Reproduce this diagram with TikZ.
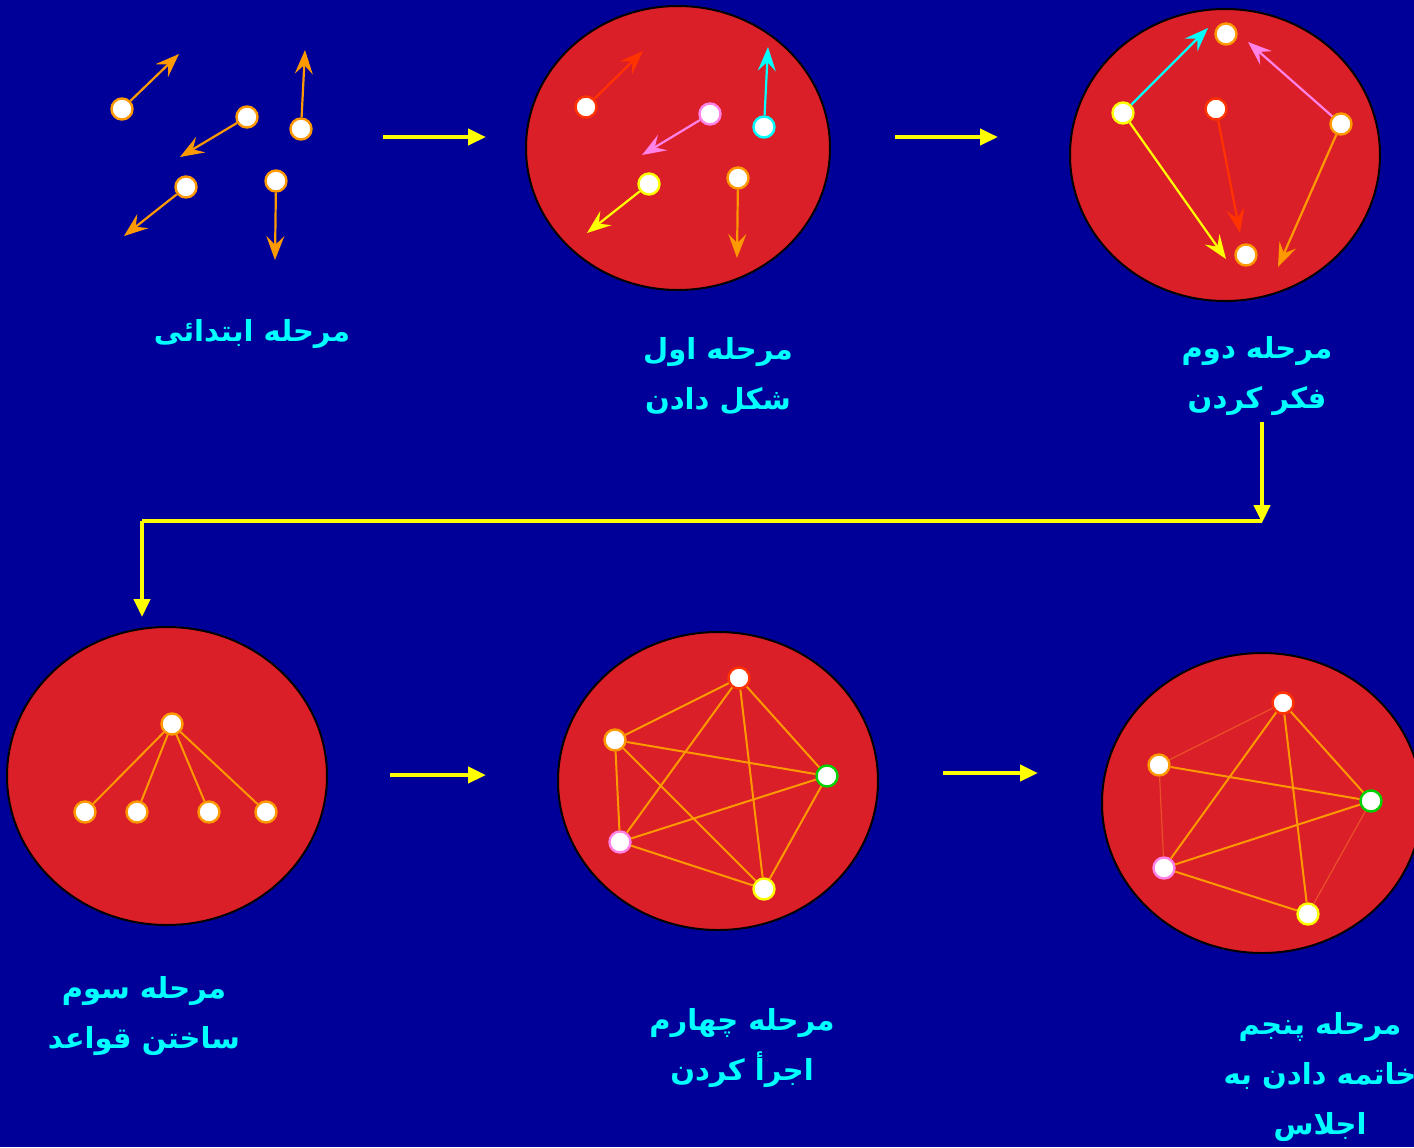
\documentclass[tikz,border=0pt]{standalone}
\usepackage{fontspec}
\usetikzlibrary{arrows.meta}
\TeXXeTstate=1
\newfontfamily\arabicfont[Script=Arabic]{DejaVu Sans}
\definecolor{bgblue}{RGB}{0,0,153}
\definecolor{disc}{RGB}{218,31,40}
\definecolor{cOr}{RGB}{255,153,0}
\definecolor{cRd}{RGB}{255,51,0}
\definecolor{cPk}{RGB}{255,130,230}
\definecolor{cCy}{RGB}{0,255,255}
\definecolor{cYe}{RGB}{255,255,0}
\definecolor{cGr}{RGB}{0,210,0}
\definecolor{cFaint}{RGB}{235,80,40}
\tikzset{
  dot/.style={circle, fill=white, draw=#1, line width=1.2pt, minimum size=10.5pt, inner sep=0pt},
  disk/.style={fill=disc, draw=black, line width=1pt},
  mv/.style={draw=#1, line width=1.1pt, -{Stealth[length=12pt, width=9pt, inset=4.5pt]}},
  edge/.style={draw=cOr, line width=1pt},
  faint/.style={draw=cFaint, line width=0.6pt},
  flow/.style={draw=cYe, line width=2.2pt},
  flowarr/.style={flow, -{Triangle[length=9pt, width=8pt]}},
  lbl/.style={text=cCy, font=\arabicfont\bfseries\fontsize{14.5pt}{25pt}\selectfont, align=center}
}
\begin{document}
\begin{tikzpicture}[x=0.5pt,y=-0.5pt]
\useasboundingbox (0,0) rectangle (1414,1147);
\clip (0,0) rectangle (1414,1147);
\fill[bgblue] (0,0) rectangle (1414,1147);

% ---------- stage 0 ----------
\node[dot=cOr] (s0a) at (122,109) {};
\node[dot=cOr] (s0b) at (247,117) {};
\node[dot=cOr] (s0c) at (301,129) {};
\node[dot=cOr] (s0d) at (186,187) {};
\node[dot=cOr] (s0e) at (276,181) {};
\coordinate (t0a) at (179,54);
\coordinate (t0b) at (180,157);
\coordinate (t0c) at (305,50);
\coordinate (t0d) at (124,236);
\coordinate (t0e) at (275,260);
\draw[mv=cOr] (s0a) -- (t0a);
\draw[mv=cOr] (s0b) -- (t0b);
\draw[mv=cOr] (s0c) -- (t0c);
\draw[mv=cOr] (s0d) -- (t0d);
\draw[mv=cOr] (s0e) -- (t0e);

% ---------- stage 1 ----------
\draw[disk] (678,148) ellipse [x radius=152, y radius=142];
\node[dot=cRd] (s1a) at (586,107) {};
\node[dot=cPk] (s1b) at (710,114) {};
\node[dot=cCy] (s1c) at (764,127) {};
\node[dot=cYe] (s1d) at (649,184) {};
\node[dot=cOr] (s1e) at (738,178) {};
\coordinate (t1a) at (643,51);
\coordinate (t1b) at (642,155);
\coordinate (t1c) at (768,47);
\coordinate (t1d) at (587,233);
\coordinate (t1e) at (737,258);
\draw[mv=cRd] (s1a) -- (t1a);
\draw[mv=cPk] (s1b) -- (t1b);
\draw[mv=cCy] (s1c) -- (t1c);
\draw[mv=cYe] (s1d) -- (t1d);
\draw[mv=cOr] (s1e) -- (t1e);

% ---------- stage 2 ----------
\draw[disk] (1225,155) ellipse [x radius=155, y radius=146];
\node[dot=cOr] (s2top) at (1226,34) {};
\node[dot=cYe] (s2l) at (1123,113) {};
\node[dot=cRd] (s2m) at (1216,109) {};
\node[dot=cOr] (s2r) at (1341,124) {};
\node[dot=cOr] (s2b) at (1246,255) {};
\coordinate (t2cy) at (1208,28);
\coordinate (t2ye) at (1226,259);
\coordinate (t2rd) at (1240,233);
\coordinate (t2pk) at (1248,42);
\coordinate (t2or) at (1278,267);
\draw[mv=cCy] (s2l) -- (t2cy);
\draw[mv=cYe] (s2l) -- (t2ye);
\draw[mv=cRd] (s2m) -- (t2rd);
\draw[mv=cPk] (s2r) -- (t2pk);
\draw[mv=cOr] (s2r) -- (t2or);

% ---------- stage 3 ----------
\draw[disk] (167,776) ellipse [x radius=160, y radius=149];
\node[dot=cOr] (s3t) at (172,724) {};
\node[dot=cOr] (s3a) at (85,812) {};
\node[dot=cOr] (s3b) at (137,812) {};
\node[dot=cOr] (s3c) at (209,812) {};
\node[dot=cOr] (s3d) at (266,812) {};
\foreach \n in {s3a,s3b,s3c,s3d} \draw[edge] (s3t) -- (\n);

% ---------- stage 4 ----------
\draw[disk] (718,781) ellipse [x radius=160, y radius=149];
\node[dot=cRd] (s4t) at (739,678) {};
\node[dot=cOr] (s4l) at (615,740) {};
\node[dot=cGr] (s4g) at (827,776) {};
\node[dot=cPk] (s4p) at (620,842) {};
\node[dot=cYe] (s4y) at (764,889) {};
\draw[edge] (s4t) -- (s4l);
\draw[edge] (s4t) -- (s4p);
\draw[edge] (s4t) -- (s4y);
\draw[edge] (s4t) -- (s4g);
\draw[edge] (s4l) -- (s4g);
\draw[edge] (s4l) -- (s4p);
\draw[edge] (s4l) -- (s4y);
\draw[edge] (s4g) -- (s4p);
\draw[edge] (s4g) -- (s4y);
\draw[edge] (s4p) -- (s4y);

% ---------- stage 5 ----------
\draw[disk] (1262,803) ellipse [x radius=160, y radius=150];
\node[dot=cRd] (s5t) at (1283,703) {};
\node[dot=cOr] (s5l) at (1159,765) {};
\node[dot=cGr] (s5g) at (1371,801) {};
\node[dot=cPk] (s5p) at (1164,868) {};
\node[dot=cYe] (s5y) at (1308,914) {};
\draw[faint] (s5t) -- (s5l);
\draw[faint] (s5l) -- (s5p);
\draw[faint] (s5g) -- (s5y);
\draw[edge] (s5t) -- (s5p);
\draw[edge] (s5t) -- (s5y);
\draw[edge] (s5t) -- (s5g);
\draw[edge] (s5l) -- (s5g);
\draw[edge] (s5g) -- (s5p);
\draw[edge] (s5p) -- (s5y);

% ---------- flow arrows ----------
\coordinate (f1a) at (383,137); \coordinate (f1b) at (486,137);
\coordinate (f2a) at (895,137); \coordinate (f2b) at (998,137);
\coordinate (f3a) at (1262,422); \coordinate (f3b) at (1262,523);
\coordinate (f3c) at (1262,521); \coordinate (f3d) at (142,521);
\coordinate (f3e) at (142,617);
\coordinate (f4a) at (390,775); \coordinate (f4b) at (486,775);
\coordinate (f5a) at (943,773); \coordinate (f5b) at (1038,773);
\draw[flowarr] (f1a) -- (f1b);
\draw[flowarr] (f2a) -- (f2b);
\draw[flowarr] (f3a) -- (f3b);
\draw[flow] (f3c) -- (f3d);
\draw[flowarr] (f3d) -- (f3e);
\draw[flowarr] (f4a) -- (f4b);
\draw[flowarr] (f5a) -- (f5b);

% ---------- labels ----------
\node[lbl] (L0) at (252,334) {\beginR مرحله ابتدائی\endR};
\node[lbl] (L1) at (718,376) {\beginR مرحله اول\endR\\\beginR شکل دادن\endR};
\node[lbl] (L2) at (1257,376) {\beginR مرحله دوم\endR\\\beginR فکر کردن\endR};
\node[lbl] (L3) at (144,1016) {\beginR مرحله سوم\endR\\\beginR ساختن قواعد\endR};
\node[lbl] (L4) at (742,1048) {\beginR مرحله چهارم\endR\\\beginR اجرأ کردن\endR};
\node[lbl] (L5) at (1320,1077) {\beginR مرحله پنجم\endR\\\beginR خاتمه دادن به\endR\\\beginR اجلاس\endR};
\end{tikzpicture}
\end{document}
